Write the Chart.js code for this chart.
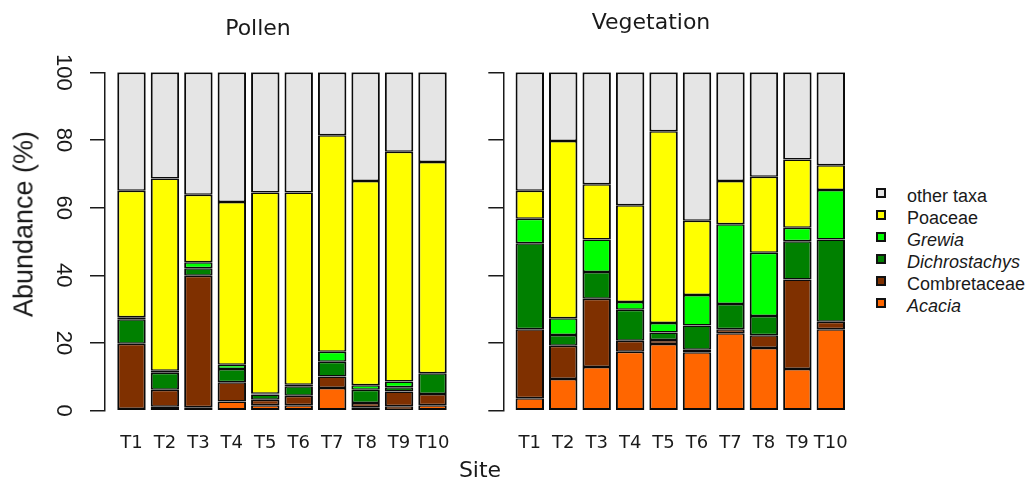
<!DOCTYPE html>
<html>
<head>
<meta charset="utf-8">
<script src="https://cdn.jsdelivr.net/npm/chart.js@4.4.1/dist/chart.umd.min.js"></script>
<style>
  html, body { margin: 0; padding: 0; background: #fff; }
  body { width: 1029px; height: 480px; position: relative; overflow: hidden; }
  canvas { position: absolute; top: 0; }
  .txt { position: absolute; white-space: nowrap; line-height: 1; color: #1a1a1a; transform: translate(-50%, -50%); }
  .leg { position: absolute; left: 876px; white-space: nowrap; font: 18px 'Liberation Sans', Arial, sans-serif; color: #1a1a1a; line-height: 1; }
  .leg .box { position: absolute; left: 0; width: 10px; height: 10px; box-sizing: border-box; border: 2px solid #111; }
  .leg .lab { position: absolute; left: 31px; transform: translateY(-50%); }
</style>
</head>
<body>
<canvas id="pollen" width="475" height="480" style="left:0px"></canvas>
<canvas id="veg" width="414" height="480" style="left:460px"></canvas>

<div class="txt" style="left:258px; top:27px; font:22px 'DejaVu Sans', sans-serif;">Pollen</div>
<div class="txt" style="left:651px; top:21px; font:22px 'DejaVu Sans', sans-serif;">Vegetation</div>
<div class="txt" style="left:480px; top:469px; font:22px 'DejaVu Sans', sans-serif;">Site</div>
<div class="txt" style="left:24px; top:223.5px; font:27px 'Liberation Sans', Arial, sans-serif; transform: translate(-50%, -50%) rotate(-90deg);">Abundance (%)</div>
<div id="legend"></div>

<script>
// ---------------- data ----------------
const sites = ['T1', 'T2', 'T3', 'T4', 'T5', 'T6', 'T7', 'T8', 'T9', 'T10'];
const taxa = ['Acacia', 'Combretaceae', 'Dichrostachys', 'Grewia', 'Poaceae', 'other taxa'];
const italicTaxa = ['Acacia', 'Dichrostachys', 'Grewia'];
const yTicks = [0, 20, 40, 60, 80, 100];

// Pollen (%)
const pollenAcacia        = [0.5, 1.2, 1.0, 2.7, 1.6, 1.6, 6.7, 1.0, 1.3, 1.6];
const pollenCombretaceae  = [19.3, 5.0, 38.9, 5.7, 1.6, 2.8, 3.4, 1.3, 4.4, 3.3];
const pollenDichrostachys = [7.2, 5.0, 2.2, 3.9, 1.6, 2.8, 4.4, 3.9, 1.2, 6.2];
const pollenGrewia        = [0.6, 0.6, 1.8, 1.3, 0.2, 0.5, 2.9, 1.3, 1.7, 0.0];
const pollenPoaceae       = [37.4, 56.8, 19.9, 48.1, 59.5, 56.8, 64.0, 60.4, 67.9, 62.4];
const pollenOther         = [35.0, 31.4, 36.2, 38.3, 35.5, 35.5, 18.6, 32.1, 23.5, 26.5];

// Vegetation (%)
const vegAcacia        = [3.7, 9.4, 12.9, 17.4, 19.7, 17.3, 22.9, 18.5, 12.3, 24.1];
const vegCombretaceae  = [20.4, 9.8, 20.2, 3.3, 1.2, 0.7, 1.2, 3.8, 26.5, 2.2];
const vegDichrostachys = [25.4, 3.2, 7.9, 9.1, 2.2, 7.2, 7.4, 5.7, 11.3, 24.3];
const vegGrewia        = [7.2, 4.9, 9.6, 2.3, 2.8, 9.0, 23.6, 18.7, 4.0, 14.6];
const vegPoaceae       = [8.3, 52.4, 16.3, 28.6, 56.7, 21.9, 12.8, 22.4, 20.1, 7.3];
const vegOther         = [35.0, 20.3, 33.1, 39.3, 17.4, 43.9, 32.1, 30.9, 25.8, 27.5];

// ---------------- styles ----------------
const taxaColors = ['#FF6600', '#7F3000', '#008000', '#00FF00', '#FFFF00', '#E5E5E5'];

const pollenSeries = [pollenAcacia, pollenCombretaceae, pollenDichrostachys, pollenGrewia, pollenPoaceae, pollenOther];
const vegSeries = [vegAcacia, vegCombretaceae, vegDichrostachys, vegGrewia, vegPoaceae, vegOther];

function makeDatasets(series) {
  const last = taxa.length - 1;
  return taxa.map((name, k) => ({
    label: name,
    data: series[k].map((v, i) => ({ x: i + 1, y: v })),
    backgroundColor: taxaColors[k],
    borderColor: '#0a0a0a',
    borderWidth: { left: 2, right: 2, top: k === last ? 2 : 1.5, bottom: k === 0 ? 2 : 1.5 },
    borderSkipped: false,
    inflateAmount: 0,
    barPercentage: 0.85,
    categoryPercentage: 1.0
  }));
}

function makeOptions(yAxisWidth, showYLabels, padRight) {
  return {
    responsive: false,
    animation: false,
    events: [],
    layout: { padding: { top: 72.3, bottom: 0, left: 0, right: padRight } },
    plugins: { legend: { display: false }, tooltip: { enabled: false }, title: { display: false } },
    scales: {
      x: {
        type: 'linear',
        min: 0.208,
        max: 10.792,
        offset: false,
        stacked: true,
        grid: { display: false, drawTicks: true, tickLength: 22 },
        border: { display: false },
        ticks: {
          padding: 0,
          autoSkip: false,
          maxRotation: 0,
          minRotation: 0,
          color: '#1a1a1a',
          font: { family: "'DejaVu Sans', sans-serif", size: 18 },
          callback: (v) => sites[Math.round(v) - 1] ?? ''
        },
        afterBuildTicks: (s) => { s.ticks = sites.map((_, i) => ({ value: i + 1 })); },
        afterFit: (s) => { s.height = 69.3; }
      },
      y: {
        type: 'linear',
        min: 0,
        max: 100,
        stacked: true,
        border: { display: true, color: '#1a1a1a', width: 1.5 },
        grid: { drawOnChartArea: false, drawTicks: true, tickLength: 15, color: '#1a1a1a', lineWidth: 1.5 },
        ticks: {
          display: showYLabels,
          autoSkip: false,
          minRotation: -90,
          crossAlign: 'center',
          padding: 9,
          color: '#1a1a1a',
          font: { family: "'Liberation Sans', Arial, sans-serif", size: 22 }
        },
        afterBuildTicks: (s) => { s.ticks = yTicks.map(v => ({ value: v })); },
        afterFit: (s) => { s.width = yAxisWidth; }
      }
    }
  };
}

new Chart(document.getElementById('pollen'), {
  type: 'bar',
  data: { datasets: makeDatasets(pollenSeries) },
  options: makeOptions(105, true, 16)
});

new Chart(document.getElementById('veg'), {
  type: 'bar',
  data: { datasets: makeDatasets(vegSeries) },
  options: makeOptions(43.3, false, 16.7)
});

// legend (top to bottom: reverse stacking order)
const legend = document.getElementById('legend');
const legendOrder = taxa.map((t, k) => k).reverse();
legendOrder.forEach((k, row) => {
  const capCenter = 195.5 + row * 22;
  const item = document.createElement('div');
  item.className = 'leg';
  item.style.top = capCenter + 'px';
  const box = document.createElement('span');
  box.className = 'box';
  box.style.background = taxaColors[k];
  box.style.top = (-2.5 - 5) + 'px';
  const lab = document.createElement('span');
  lab.className = 'lab';
  lab.textContent = taxa[k];
  if (italicTaxa.includes(taxa[k])) lab.style.fontStyle = 'italic';
  item.appendChild(box);
  item.appendChild(lab);
  legend.appendChild(item);
});
</script>
</body>
</html>
